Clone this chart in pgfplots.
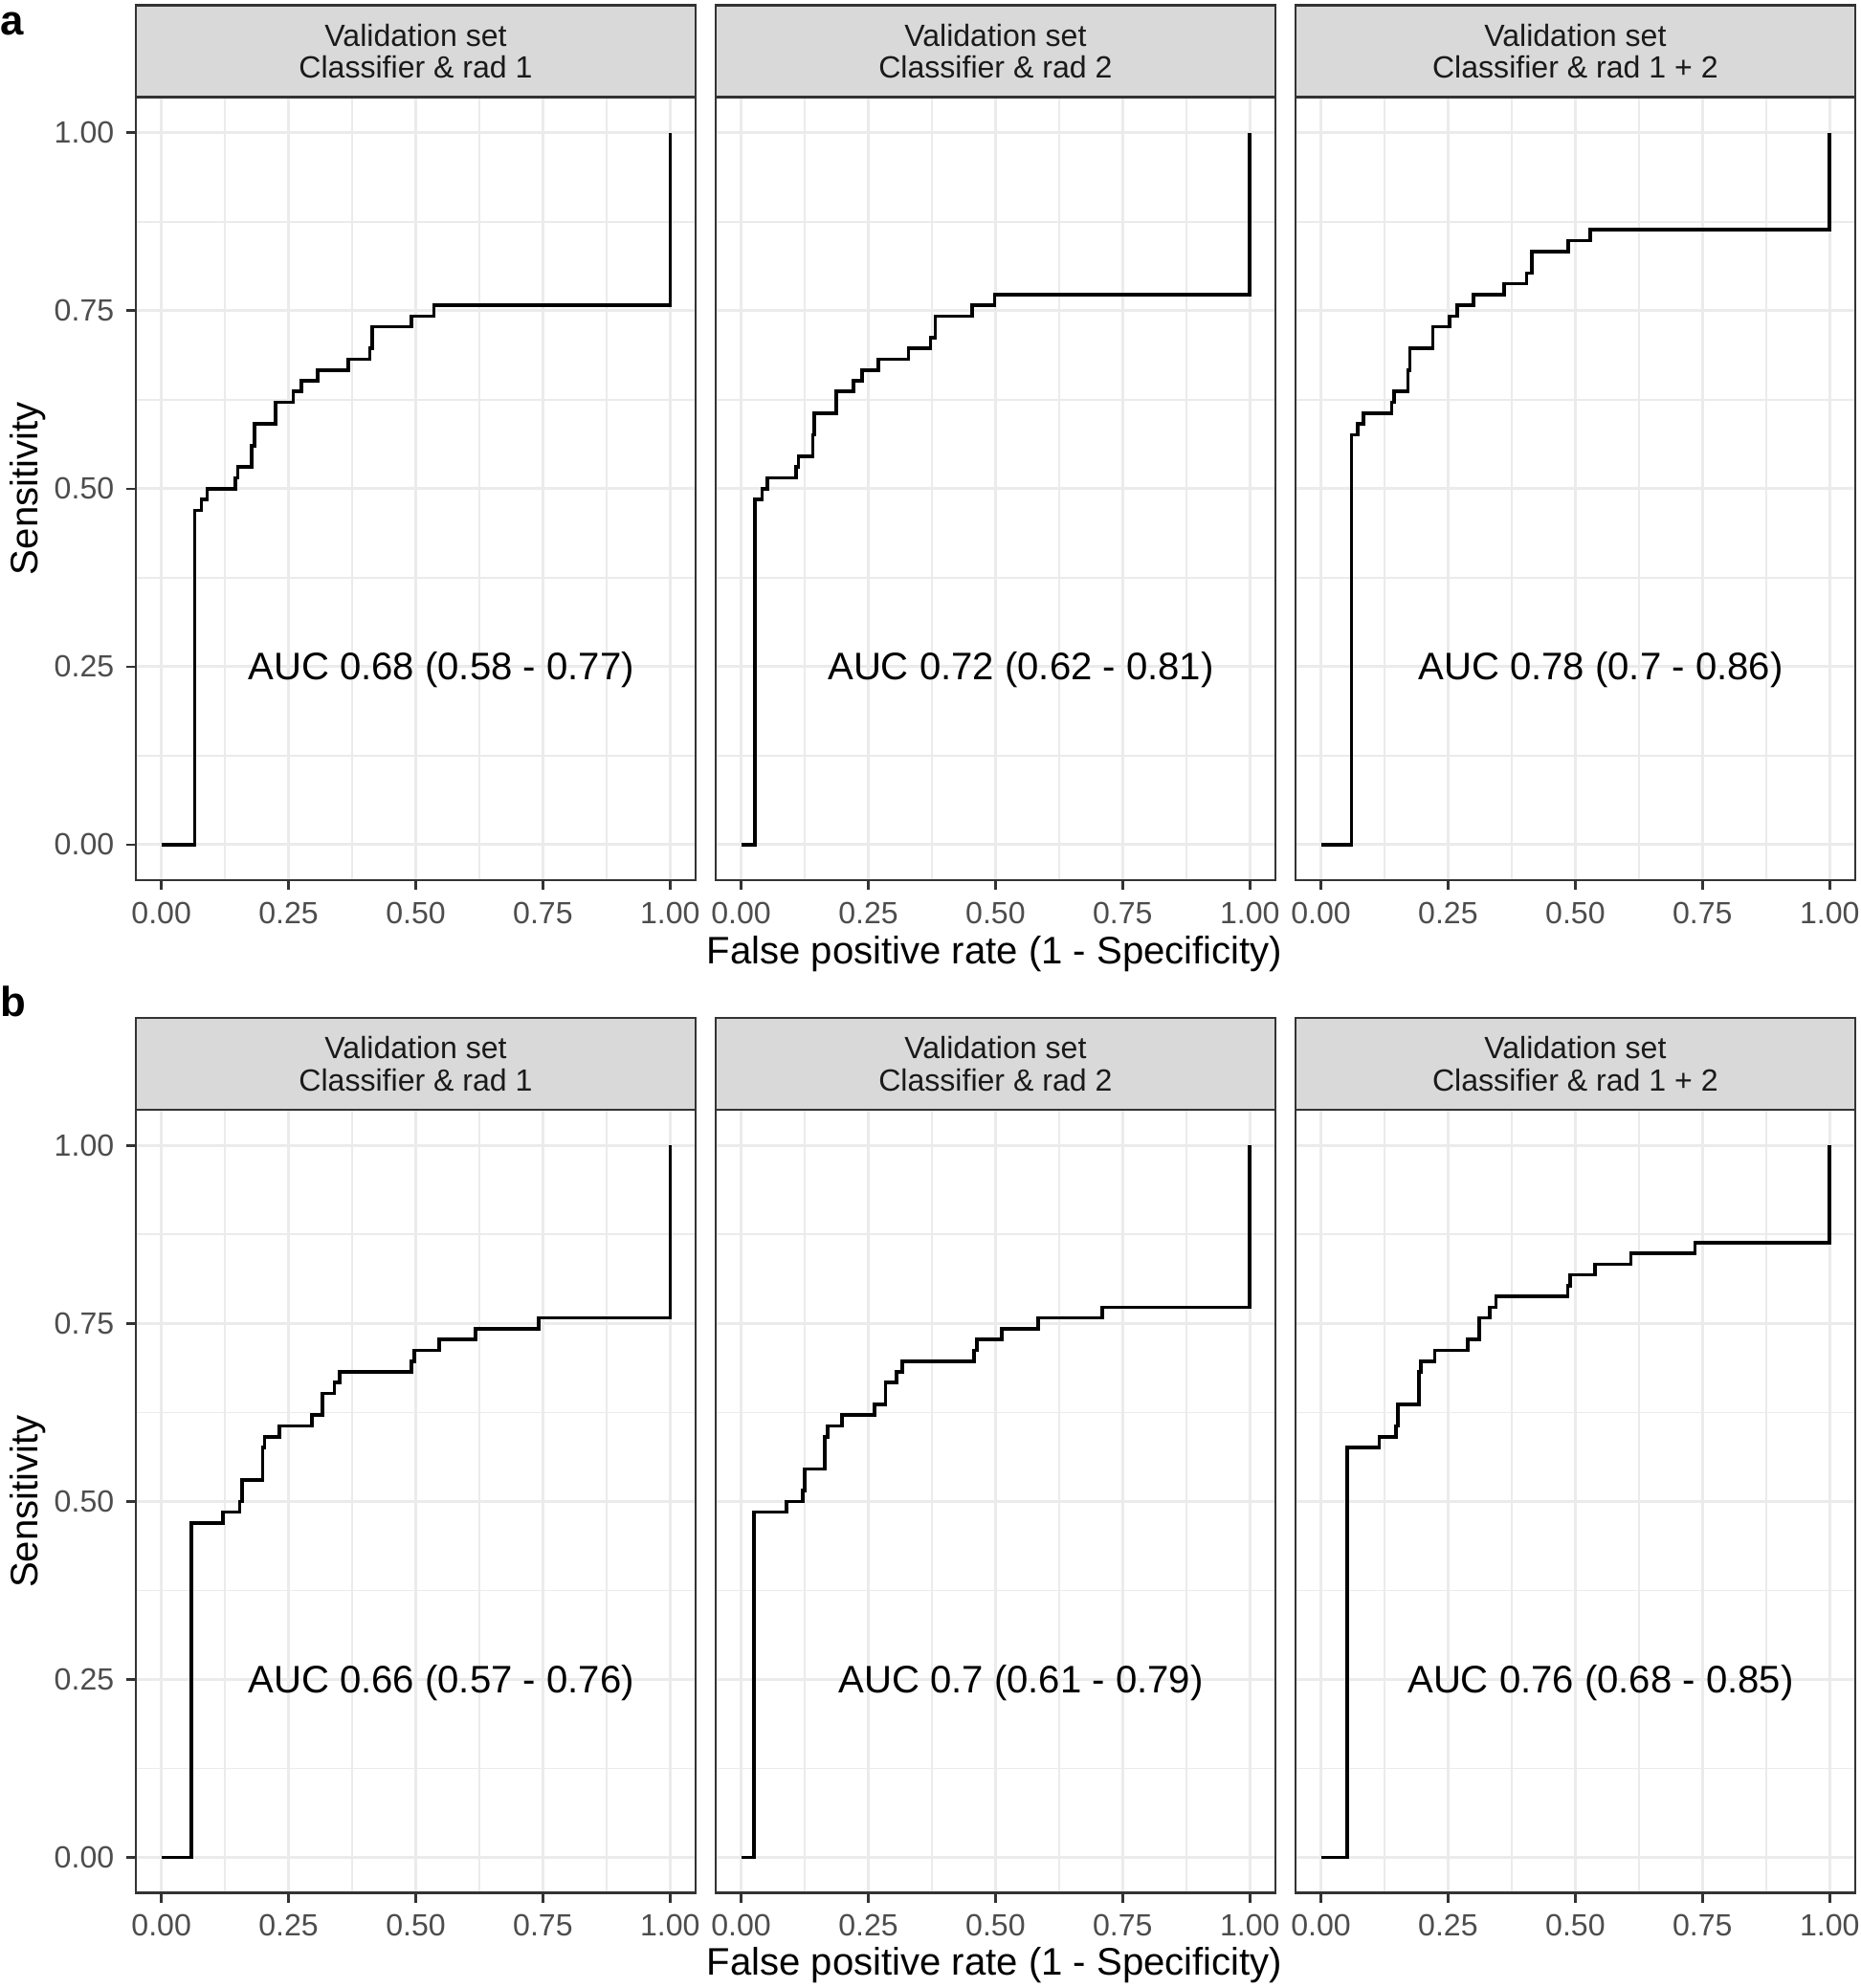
\documentclass[border=0pt]{standalone}
\usepackage{pgfplots}
\pgfplotsset{compat=1.18}
\usepackage{fontspec}
\setmainfont{Liberation Sans}
\definecolor{g92}{HTML}{EBEBEB}
\definecolor{g85}{HTML}{D9D9D9}
\definecolor{g20}{HTML}{333333}
\definecolor{g30}{HTML}{4D4D4D}
\definecolor{g10}{HTML}{1A1A1A}
\pgfplotsset{
  rocpanel/.style={
    scale only axis, width=160.46pt, height=224.56pt,
    anchor=south west,
    xmin=-0.05, xmax=1.05, ymin=-0.05, ymax=1.05,
    xtick={0,0.25,0.5,0.75,1},
    xticklabels={0.00,0.25,0.50,0.75,1.00},
    ytick={0,0.25,0.5,0.75,1},
    yticklabels={0.00,0.25,0.50,0.75,1.00},
    minor xtick={0.125,0.375,0.625,0.875},
    minor ytick={0.125,0.375,0.625,0.875},
    grid=both,
    major grid style={draw=g92, line width=0.85pt},
    minor grid style={draw=g92, line width=0.45pt},
    axis line style={draw=g20, line width=0.7pt},
    tick align=outside, xtick pos=bottom, ytick pos=left,
    major tick length=2.75pt, minor tick length=0pt,
    tick style={draw=g20, line width=0.7pt},
    ticklabel style={font=\fontsize{8.8}{10}\selectfont, text=g30},
    clip=false,
  },
  inner/.style={yticklabels={}, ytick style={draw=none}},
  roc/.style={black, line width=1pt, line join=miter},
}
\newcommand{\strip}[2]{%
  \filldraw[fill=g85, draw=g20, line width=0.7pt] (#1.north west) rectangle ([yshift=26.3pt]#1.north east);
  \node[align=center, font=\fontsize{8.8}{9.2}\selectfont, text=g10] at ([yshift=13.15pt]$(#1.north west)!0.5!(#1.north east)$) {Validation set\\Classifier \& rad #2};
}
\usetikzlibrary{calc}
\begin{document}
\begin{tikzpicture}
\useasboundingbox (0,0) rectangle (533.4pt,570.1pt);
% ---------------- row a ----------------
\begin{axis}[rocpanel, name=a1, at={(38.98pt,317.68pt)}]
\addplot[roc] coordinates {(0,0) (0.0656,0) (0.0656,0.4697) (0.079,0.4697) (0.079,0.4848) (0.090,0.4848) (0.090,0.5) (0.145,0.5) (0.145,0.5152) (0.150,0.5152) (0.150,0.5303) (0.178,0.5303) (0.178,0.5606) (0.183,0.5606) (0.183,0.5909) (0.225,0.5909) (0.225,0.6212) (0.259,0.6212) (0.259,0.6364) (0.275,0.6364) (0.275,0.6515) (0.307,0.6515) (0.307,0.6667) (0.367,0.6667) (0.367,0.6818) (0.410,0.6818) (0.410,0.6970) (0.414,0.6970) (0.414,0.7273) (0.492,0.7273) (0.492,0.7424) (0.536,0.7424) (0.536,0.7576) (1,0.7576) (1,1)};
\node[font=\fontsize{11}{13}\selectfont] at (axis cs:0.55,0.245) {AUC 0.68 (0.58 - 0.77)};
\end{axis}
\begin{axis}[rocpanel, inner, name=a2, at={(205.2pt,317.68pt)}]
\addplot[roc] coordinates {(0,0) (0.0275,0) (0.0275,0.4848) (0.041,0.4848) (0.041,0.5) (0.052,0.5) (0.052,0.5152) (0.108,0.5152) (0.108,0.5303) (0.1125,0.5303) (0.1125,0.5455) (0.141,0.5455) (0.141,0.5758) (0.144,0.5758) (0.144,0.6061) (0.1875,0.6061) (0.1875,0.6364) (0.221,0.6364) (0.221,0.6515) (0.238,0.6515) (0.238,0.6667) (0.27,0.6667) (0.27,0.6818) (0.329,0.6818) (0.329,0.6970) (0.372,0.6970) (0.372,0.7121) (0.382,0.7121) (0.382,0.7424) (0.454,0.7424) (0.454,0.7576) (0.498,0.7576) (0.498,0.7727) (1,0.7727) (1,1)};
\node[font=\fontsize{11}{13}\selectfont] at (axis cs:0.55,0.245) {AUC 0.72 (0.62 - 0.81)};
\end{axis}
\begin{axis}[rocpanel, inner, name=a3, at={(371.45pt,317.68pt)}]
\addplot[roc] coordinates {(0,0) (0.060,0) (0.060,0.5758) (0.072,0.5758) (0.072,0.5909) (0.084,0.5909) (0.084,0.6061) (0.139,0.6061) (0.139,0.6212) (0.144,0.6212) (0.144,0.6364) (0.171,0.6364) (0.171,0.6667) (0.175,0.6667) (0.175,0.6970) (0.220,0.6970) (0.220,0.7273) (0.2525,0.7273) (0.2525,0.7424) (0.268,0.7424) (0.268,0.7576) (0.300,0.7576) (0.300,0.7727) (0.360,0.7727) (0.360,0.7879) (0.404,0.7879) (0.404,0.8030) (0.415,0.8030) (0.415,0.8333) (0.486,0.8333) (0.486,0.8485) (0.529,0.8485) (0.529,0.8636) (1,0.8636) (1,1)};
\node[font=\fontsize{11}{13}\selectfont] at (axis cs:0.55,0.245) {AUC 0.78 (0.7 - 0.86)};
\end{axis}
\strip{a1}{1}
\strip{a2}{2}
\strip{a3}{1 + 2}
\node[font=\fontsize{11}{13}\selectfont] at (285.2pt,296.6pt) {False positive rate (1 - Specificity)};
\node[font=\fontsize{11}{13}\selectfont, rotate=90] at (8pt,429.96pt) {Sensitivity};
\node[anchor=base west, inner sep=0pt, font=\bfseries\fontsize{12}{14}\selectfont] at (0pt,560.2pt) {a};
% ---------------- row b ----------------
\begin{axis}[rocpanel, name=b1, at={(38.98pt,27.27pt)}]
\addplot[roc] coordinates {(0,0) (0.059,0) (0.059,0.4697) (0.121,0.4697) (0.121,0.4848) (0.154,0.4848) (0.154,0.5) (0.158,0.5) (0.158,0.5303) (0.199,0.5303) (0.199,0.5758) (0.203,0.5758) (0.203,0.5909) (0.2315,0.5909) (0.2315,0.6061) (0.296,0.6061) (0.296,0.6212) (0.317,0.6212) (0.317,0.6515) (0.340,0.6515) (0.340,0.6667) (0.350,0.6667) (0.350,0.6818) (0.492,0.6818) (0.492,0.6970) (0.497,0.6970) (0.497,0.7121) (0.546,0.7121) (0.546,0.7273) (0.617,0.7273) (0.617,0.7424) (0.742,0.7424) (0.742,0.7576) (1,0.7576) (1,1)};
\node[font=\fontsize{11}{13}\selectfont] at (axis cs:0.55,0.245) {AUC 0.66 (0.57 - 0.76)};
\end{axis}
\begin{axis}[rocpanel, inner, name=b2, at={(205.2pt,27.27pt)}]
\addplot[roc] coordinates {(0,0) (0.0255,0) (0.0255,0.4848) (0.089,0.4848) (0.089,0.5) (0.121,0.5) (0.121,0.5152) (0.125,0.5152) (0.125,0.5455) (0.165,0.5455) (0.165,0.5909) (0.170,0.5909) (0.170,0.6061) (0.198,0.6061) (0.198,0.6212) (0.262,0.6212) (0.262,0.6364) (0.284,0.6364) (0.284,0.6667) (0.306,0.6667) (0.306,0.6818) (0.317,0.6818) (0.317,0.6970) (0.458,0.6970) (0.458,0.7121) (0.463,0.7121) (0.463,0.7273) (0.513,0.7273) (0.513,0.7424) (0.584,0.7424) (0.584,0.7576) (0.710,0.7576) (0.710,0.7727) (1,0.7727) (1,1)};
\node[font=\fontsize{11}{13}\selectfont] at (axis cs:0.55,0.245) {AUC 0.7 (0.61 - 0.79)};
\end{axis}
\begin{axis}[rocpanel, inner, name=b3, at={(371.45pt,27.27pt)}]
\addplot[roc] coordinates {(0,0) (0.052,0) (0.052,0.5758) (0.115,0.5758) (0.115,0.5909) (0.148,0.5909) (0.148,0.6061) (0.151,0.6061) (0.151,0.6364) (0.193,0.6364) (0.193,0.6818) (0.197,0.6818) (0.197,0.6970) (0.2235,0.6970) (0.2235,0.7121) (0.289,0.7121) (0.289,0.7273) (0.311,0.7273) (0.311,0.7576) (0.332,0.7576) (0.332,0.7727) (0.344,0.7727) (0.344,0.7879) (0.485,0.7879) (0.485,0.8030) (0.490,0.8030) (0.490,0.8182) (0.539,0.8182) (0.539,0.8333) (0.609,0.8333) (0.609,0.8485) (0.735,0.8485) (0.735,0.8636) (1,0.8636) (1,1)};
\node[font=\fontsize{11}{13}\selectfont] at (axis cs:0.55,0.245) {AUC 0.76 (0.68 - 0.85)};
\end{axis}
\strip{b1}{1}
\strip{b2}{2}
\strip{b3}{1 + 2}
\node[font=\fontsize{11}{13}\selectfont] at (285.2pt,6.6pt) {False positive rate (1 - Specificity)};
\node[font=\fontsize{11}{13}\selectfont, rotate=90] at (8pt,139.5pt) {Sensitivity};
\node[anchor=base west, inner sep=0pt, font=\bfseries\fontsize{12}{14}\selectfont] at (0pt,278.5pt) {b};
\end{tikzpicture}
\end{document}
